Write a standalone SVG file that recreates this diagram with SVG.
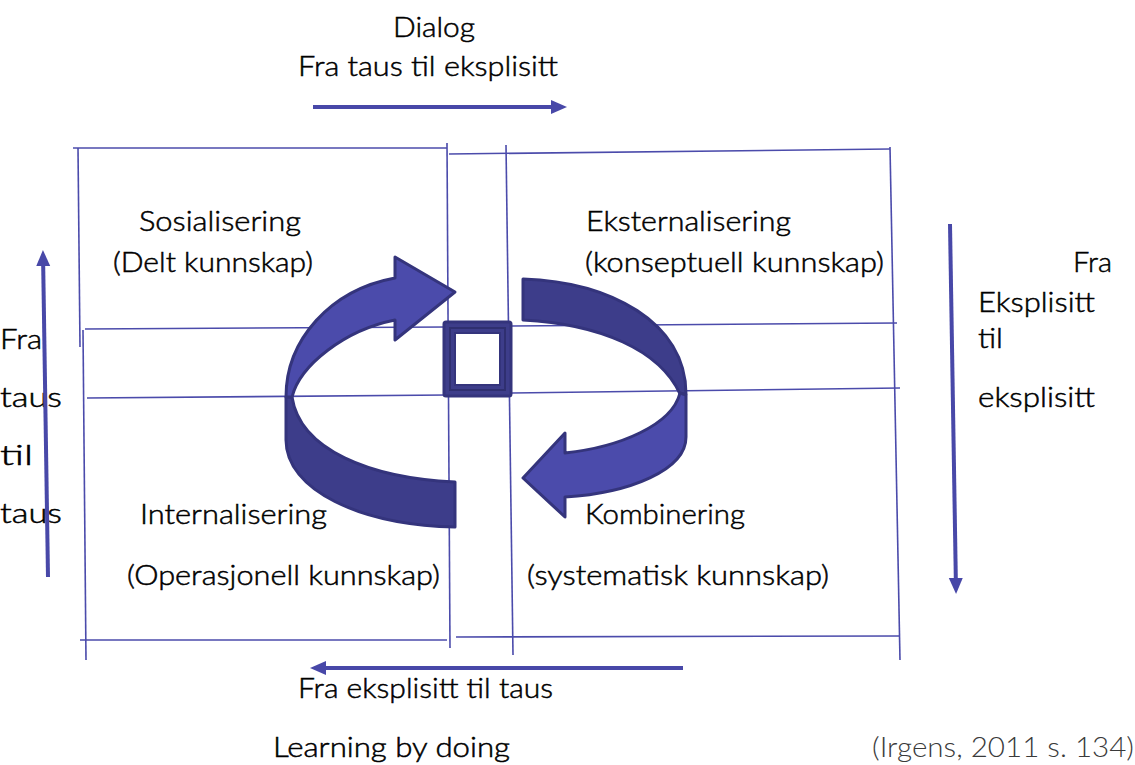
<svg xmlns="http://www.w3.org/2000/svg" width="1135" height="765" viewBox="0 0 1135 765">
<style>
.g{stroke:#4b4bab;stroke-width:1.6;fill:none}
.a{stroke:#4848a8;stroke-width:4;fill:none}
.t{font-family:Lato,"Liberation Sans",sans-serif;font-size:27px;font-weight:300;fill:#000;stroke:#000;stroke-width:0.5}
.lt{fill:#4b4bab;stroke:#34347c;stroke-width:3;stroke-linejoin:round}
.dk{fill:#3d3d8a;stroke:#34347c;stroke-width:3;stroke-linejoin:round}
</style>
<defs>
<marker id="ah" markerUnits="userSpaceOnUse" markerWidth="16" markerHeight="16" refX="0" refY="8" orient="auto" viewBox="0 0 16 16"><path d="M0,1 L16,8 L0,15 Z" fill="#4848a8"/></marker>
</defs>
<rect width="1135" height="765" fill="#fff"/>
<g id="connectors">
<g id="grid">
<line class="g" x1="73" y1="148" x2="447" y2="148"/>
<line class="g" x1="449" y1="154" x2="890" y2="149"/>
<line class="g" x1="78" y1="148" x2="80" y2="347"/>
<line class="g" x1="83" y1="330" x2="86" y2="660"/>
<line class="g" x1="447" y1="143" x2="450" y2="648"/>
<line class="g" x1="506" y1="145" x2="513" y2="655"/>
<line class="g" x1="890" y1="147" x2="900" y2="660"/>
<line class="g" x1="85" y1="329" x2="447" y2="327"/>
<line class="g" x1="512" y1="326" x2="897" y2="323"/>
<line class="g" x1="87" y1="398" x2="447" y2="395"/>
<line class="g" x1="512" y1="393" x2="900" y2="388"/>
<line class="g" x1="80" y1="640" x2="447" y2="640"/>
<line class="g" x1="456" y1="637" x2="900" y2="636"/>
</g>
</g>
<g id="cycle-left">
<path class="dk" d="M292,397 C300,450 370,478 455,482 L455,527 C360,525 286,490 286,440 L286,397 Z"/>
<path class="lt" d="M286,397 C286,340 330,290 395,278 L395,257 L455,292 L395,340 L395,320 C345,330 300,365 292,397 Z"/>
</g>
<g id="cycle-right">
<path class="dk" d="M523,279 C610,282 686,322 686,394 L680,394 C660,350 600,324 523,320 Z"/>
<path class="lt" d="M680,393 L686,395 L686,437 C686,470 630,493 565,497 L565,517 L523,478 L565,433 L565,453 C620,447 672,425 680,393 Z"/>
</g>
<g id="center">
<rect x="444" y="322" width="67" height="74" rx="2" fill="#3d3d8a" stroke="#34347c" stroke-width="3"/>
<rect x="450" y="328" width="55" height="62" fill="none" stroke="#2f2f70" stroke-width="2"/>
<rect x="455" y="333" width="45" height="52" fill="#fff" stroke="#34347c" stroke-width="2"/>
</g>
<g id="top-label">
<text class="t" x="393" y="37" textLength="82" lengthAdjust="spacingAndGlyphs">Dialog</text>
<text class="t" x="298" y="76" textLength="260" lengthAdjust="spacingAndGlyphs">Fra taus til eksplisitt</text>
</g>
<g id="sosialisering">
<text class="t" x="139" y="231" textLength="162" lengthAdjust="spacingAndGlyphs">Sosialisering</text>
<text class="t" x="113" y="272" textLength="200" lengthAdjust="spacingAndGlyphs">(Delt kunnskap)</text>
</g>
<g id="eksternalisering">
<text class="t" x="586" y="231" textLength="205" lengthAdjust="spacingAndGlyphs">Eksternalisering</text>
<text class="t" x="585" y="272" textLength="299" lengthAdjust="spacingAndGlyphs">(konseptuell kunnskap)</text>
</g>
<g id="internalisering">
<text class="t" x="140" y="524" textLength="187" lengthAdjust="spacingAndGlyphs">Internalisering</text>
<text class="t" x="127" y="585" textLength="313" lengthAdjust="spacingAndGlyphs">(Operasjonell kunnskap)</text>
</g>
<g id="kombinering">
<text class="t" x="585" y="524" textLength="160" lengthAdjust="spacingAndGlyphs">Kombinering</text>
<text class="t" x="527" y="585" textLength="302" lengthAdjust="spacingAndGlyphs">(systematisk kunnskap)</text>
</g>
<g id="right-label">
<text class="t" x="1073" y="272" textLength="39" lengthAdjust="spacingAndGlyphs">Fra</text>
<text class="t" x="978" y="312" textLength="117" lengthAdjust="spacingAndGlyphs">Eksplisitt</text>
<text class="t" x="978" y="348" textLength="25" lengthAdjust="spacingAndGlyphs">til</text>
<text class="t" x="978" y="407" textLength="117" lengthAdjust="spacingAndGlyphs">eksplisitt</text>
</g>
<g id="left-label">
<text class="t" x="0" y="349" textLength="42" lengthAdjust="spacingAndGlyphs">Fra</text>
<text class="t" x="0" y="407" textLength="62" lengthAdjust="spacingAndGlyphs">taus</text>
<text class="t" x="0" y="465" textLength="33" lengthAdjust="spacingAndGlyphs">til</text>
<text class="t" x="0" y="523" textLength="62" lengthAdjust="spacingAndGlyphs">taus</text>
</g>
<g id="bottom-label">
<text class="t" x="298" y="698" textLength="255" lengthAdjust="spacingAndGlyphs">Fra eksplisitt til taus</text>
</g>
<g id="footer">
<text class="t" x="273" y="757" textLength="237" lengthAdjust="spacingAndGlyphs">Learning by doing</text>
<text class="t" x="872" y="757" textLength="262" lengthAdjust="spacingAndGlyphs" style="fill:#3a3a3a;stroke:none">(Irgens, 2011 s. 134)</text>
</g>
<g id="flow-arrows">
<line class="a" x1="48" y1="577" x2="43.2" y2="266" marker-end="url(#ah)"/>
<line class="a" x1="313" y1="107" x2="551" y2="107" marker-end="url(#ah)"/>
<line class="a" x1="950" y1="224" x2="955.8" y2="578" marker-end="url(#ah)"/>
<line class="a" x1="683" y1="668" x2="326" y2="668" marker-end="url(#ah)"/>
</g>
</svg>
